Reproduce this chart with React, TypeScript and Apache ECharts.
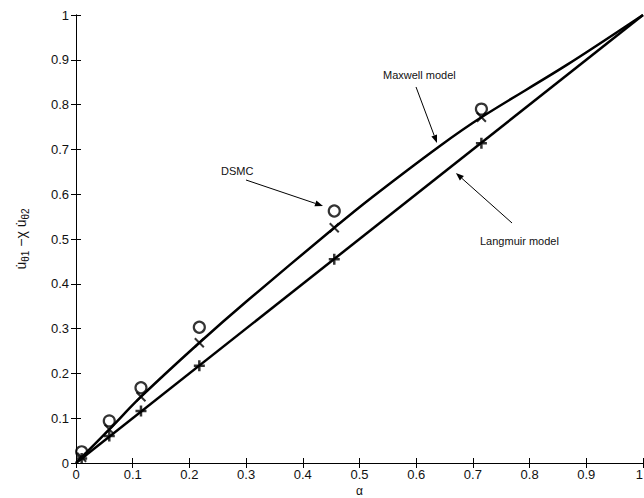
import React, { useEffect, useRef } from "react";
import * as echarts from "echarts";

// Sample positions (accommodation coefficient alpha)
const alphaSamples = [0.01, 0.0587, 0.1146, 0.2175, 0.4555, 0.715];
// DSMC results (circles)
const dsmcValues = [0.025, 0.094, 0.168, 0.303, 0.5625, 0.79];
// Maxwell model markers (x)
const maxwellMarkers = [0.013, 0.075, 0.148, 0.2685, 0.525, 0.7717];
// Langmuir model markers (+)
const langmuirMarkers = [0.01, 0.06, 0.116, 0.217, 0.455, 0.7136];
// Maxwell model curve
const maxwellCurveAlpha = [0, 0.01, 0.0587, 0.1146, 0.2175, 0.3, 0.4555, 0.52, 0.64, 0.715, 0.865, 1];
const maxwellCurveValues = [0, 0.013, 0.075, 0.148, 0.2685, 0.36, 0.525, 0.591, 0.706, 0.7717, 0.888, 1];
// Langmuir model line
const langmuirCurveAlpha = [0, 1];
const langmuirCurveValues = [0, 1];
// Annotation arrows in data coordinates: [from, to]
const annotationArrows = [
  [[0.5997, 0.8393], [0.6367, 0.7143]],
  [[0.769, 0.5357], [0.67, 0.6473]],
  [[0.2998, 0.6317], [0.4356, 0.5737]],
];

const zip = (xs: number[], ys: number[]) => xs.map((x, i) => [x, ys[i]]);

const FONT = "Liberation Sans, Arial, sans-serif";

function arrowGraphic(p1: number[], p2: number[]) {
  const dx = p2[0] - p1[0];
  const dy = p2[1] - p1[1];
  const len = Math.sqrt(dx * dx + dy * dy);
  const ux = dx / len;
  const uy = dy / len;
  const hl = 8;
  const hw = 3;
  const bx = p2[0] - ux * hl;
  const by = p2[1] - uy * hl;
  return [
    {
      type: "line",
      shape: { x1: p1[0], y1: p1[1], x2: bx, y2: by },
      style: { stroke: "#000", lineWidth: 1 },
      silent: true,
    },
    {
      type: "polygon",
      shape: {
        points: [
          [p2[0], p2[1]],
          [bx - uy * hw, by + ux * hw],
          [bx + uy * hw, by - ux * hw],
        ],
      },
      style: { fill: "#000" },
      silent: true,
    },
  ];
}

export default function App() {
  const ref = useRef<HTMLDivElement>(null);
  useEffect(() => {
    if (!ref.current) return;
    const chart = echarts.init(ref.current, null, { renderer: "svg" });
    const axisCommon = {
      type: "value" as const,
      min: 0,
      max: 1,
      interval: 0.1,
      splitLine: { show: false },
      axisLine: { show: true, lineStyle: { color: "#000", width: 1 } },
      axisTick: { show: true, inside: true, length: 5, lineStyle: { color: "#000" } },
    };
    const labelStyle = { color: "#111", fontSize: 13, fontFamily: FONT };
    const fmt = (v: number) => String(Math.round(v * 10) / 10);
    chart.setOption({
      animation: false,
      backgroundColor: "#fff",
      grid: {
        left: 76,
        top: 15,
        width: 567,
        height: 448,
        show: false,
        containLabel: false,
        outerBoundsMode: "none",
      },
      xAxis: [
        {
          ...axisCommon,
          position: "bottom",
          axisLabel: { ...labelStyle, margin: 5, formatter: fmt, alignMaxLabel: "right" },
        },
        {
          ...axisCommon,
          position: "top",
          axisLabel: { show: false },
        },
      ],
      yAxis: [
        {
          ...axisCommon,
          position: "left",
          axisLabel: { ...labelStyle, margin: 7, formatter: fmt },
          name: "{u|u̇}{s|θ1}{u| −χ u̇}{s|θ2}",
          nameLocation: "middle",
          nameRotate: 90,
          nameGap: 46,
          nameTextStyle: {
            color: "#111",
            fontFamily: FONT,
            rich: {
              u: { fontSize: 14, fontFamily: FONT, color: "#111", lineHeight: 18, verticalAlign: "middle" },
              s: { fontSize: 10, fontFamily: FONT, color: "#111", lineHeight: 18, verticalAlign: "bottom", padding: [7, 0, 0, 0] },
            },
          },
        },
        {
          ...axisCommon,
          position: "right",
          axisLabel: { show: false },
        },
      ],
      series: [
        {
          type: "line",
          data: zip(maxwellCurveAlpha, maxwellCurveValues),
          smooth: 0.3,
          showSymbol: false,
          symbol: "none",
          lineStyle: { color: "#000", width: 2.5 },
          silent: true,
        },
        {
          type: "line",
          data: zip(langmuirCurveAlpha, langmuirCurveValues),
          showSymbol: false,
          symbol: "none",
          lineStyle: { color: "#000", width: 2.5 },
          silent: true,
        },
        {
          type: "scatter",
          data: zip(alphaSamples, maxwellMarkers),
          symbol: "path://M0,0L10,10M10,0L0,10",
          symbolSize: 9,
          itemStyle: { color: "rgba(0,0,0,0)", borderColor: "#000", borderWidth: 2 },
          silent: true,
        },
        {
          type: "scatter",
          data: zip(alphaSamples, langmuirMarkers),
          symbol: "path://M5,0L5,10M0,5L10,5",
          symbolSize: 11,
          itemStyle: { color: "rgba(0,0,0,0)", borderColor: "#000", borderWidth: 2.5 },
          silent: true,
        },
        {
          type: "scatter",
          data: zip(alphaSamples, dsmcValues),
          symbol: "circle",
          symbolSize: 11,
          itemStyle: { color: "rgba(0,0,0,0)", borderColor: "#000", borderWidth: 2.2 },
          silent: true,
        },
      ],
    });
    const arrows = annotationArrows.flatMap(([a, b]) =>
      arrowGraphic(
        chart.convertToPixel({ gridIndex: 0 }, a) as number[],
        chart.convertToPixel({ gridIndex: 0 }, b) as number[]
      )
    );
    const mid = chart.convertToPixel({ gridIndex: 0 }, [0.5, 0]) as number[];
    chart.setOption({
      graphic: [
        ...arrows,
        {
          type: "text",
          x: mid[0],
          y: mid[1] + 22,
          style: {
            text: "α",
            fill: "#111",
            fontSize: 12,
            lineHeight: 12,
            fontFamily: FONT,
            textAlign: "center",
            textVerticalAlign: "top",
          },
        },
        {
          type: "text",
          left: 383,
          top: 69,
          style: { text: "Maxwell model", fill: "#111", fontSize: 11, fontFamily: FONT },
        },
        {
          type: "text",
          left: 480,
          top: 235,
          style: { text: "Langmuir model", fill: "#111", fontSize: 11, fontFamily: FONT },
        },
        {
          type: "text",
          left: 221,
          top: 165,
          style: { text: "DSMC", fill: "#111", fontSize: 11, fontFamily: FONT },
        },
      ],
    });
    return () => chart.dispose();
  }, []);
  return (
    <div
      ref={ref}
      style={{ position: "fixed", left: 0, top: 0, width: 644, height: 498, background: "#fff" }}
    />
  );
}
